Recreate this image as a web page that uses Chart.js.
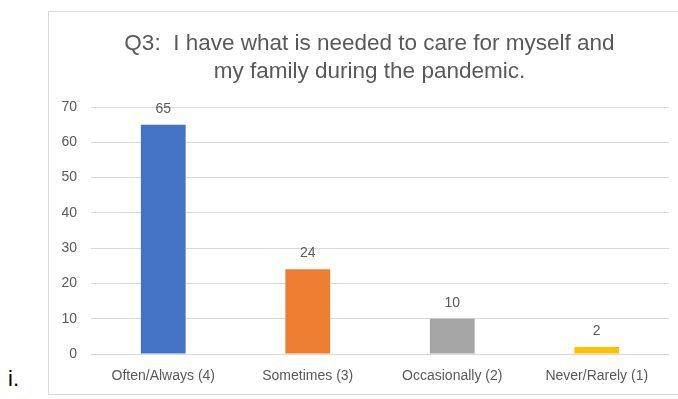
<!DOCTYPE html>
<html>
<head>
<meta charset="utf-8">
<script src="https://cdn.jsdelivr.net/npm/chart.js@4"></script>
<style>
  html, body { margin: 0; padding: 0; background: #fff; }
  body { width: 678px; height: 399px; position: relative; overflow: hidden; }
  #box {
    position: absolute; left: 48px; top: 11px; width: 640px; height: 384px;
    border: 1px solid #d9d9d9; box-sizing: border-box;
  }
  #wrap { position: absolute; left: 0; top: 0; width: 629px; height: 382px; }
  #mark {
    position: absolute; left: 8px; top: 366px;
    font: 22px "Liberation Sans", Arial, sans-serif; color: #000;
  }
</style>
</head>
<body>
<div id="mark">i.</div>
<div id="box"><div id="wrap"><canvas id="chart"></canvas></div></div>
<script>
const categories = ['Often/Always (4)', 'Sometimes (3)', 'Occasionally (2)', 'Never/Rarely (1)'];
const counts = [65, 24, 10, 2];
const barColors = ['#4472C4', '#ED7D31', '#A5A5A5', '#FFC000'];
const titleLines = ['Q3:  I have what is needed to care for myself and', 'my family during the pandemic.'];

const textColor = '#595959';
const fontFamily = '"Liberation Sans", Arial, sans-serif';

// values printed above each bar
const barValues = {
  id: 'barValues',
  afterDatasetsDraw(chart) {
    const ctx = chart.ctx;
    const meta = chart.getDatasetMeta(0);
    ctx.save();
    ctx.font = '14px ' + fontFamily;
    ctx.fillStyle = textColor;
    ctx.textAlign = 'center';
    ctx.textBaseline = 'middle';
    meta.data.forEach((bar, i) => {
      ctx.fillText(String(counts[i]), bar.x, bar.y - 16);
    });
    ctx.restore();
  }
};

// the title sits a little right of the canvas centre, like the Excel original
const chartTitle = {
  id: 'chartTitle',
  afterDraw(chart) {
    const ctx = chart.ctx;
    const cx = chart.width / 2 + 6;
    ctx.save();
    ctx.font = '22.5px ' + fontFamily;
    ctx.fillStyle = textColor;
    ctx.textAlign = 'center';
    ctx.textBaseline = 'middle';
    titleLines.forEach((line, i) => ctx.fillText(line, cx, 32 + i * 28));
    ctx.restore();
  }
};

new Chart(document.getElementById('chart'), {
  type: 'bar',
  data: {
    labels: categories,
    datasets: [{
      data: counts,
      backgroundColor: barColors,
      categoryPercentage: 1,
      barPercentage: 0.31
    }]
  },
  options: {
    responsive: true,
    maintainAspectRatio: false,
    animation: false,
    layout: { padding: { left: 0, right: 9, top: 95, bottom: 0 } },
    plugins: {
      legend: { display: false },
      tooltip: { enabled: false },
      title: { display: false }
    },
    scales: {
      x: {
        grid: { display: false, drawTicks: false },
        border: { display: false },
        ticks: { color: textColor, font: { family: fontFamily, size: 14 }, padding: 14, maxRotation: 0 },
        afterFit: (s) => { s.height = 40; }
      },
      y: {
        min: 0, max: 70,
        ticks: { stepSize: 10, color: textColor, font: { family: fontFamily, size: 14 }, padding: 14 },
        grid: { color: '#d9d9d9', lineWidth: 1, drawTicks: false },
        border: { display: false },
        afterFit: (s) => { s.width = 42; }
      }
    }
  },
  plugins: [barValues, chartTitle]
});
</script>
</body>
</html>
